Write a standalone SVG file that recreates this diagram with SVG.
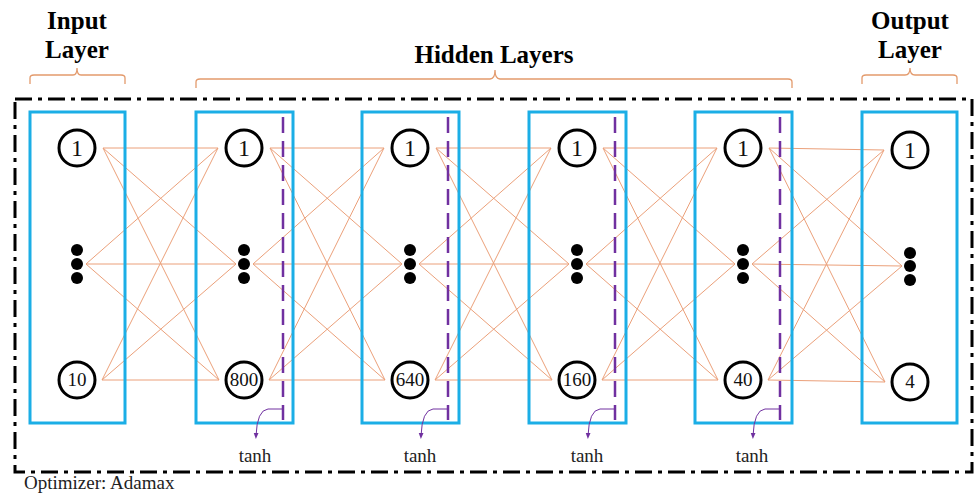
<svg xmlns="http://www.w3.org/2000/svg" width="976" height="498" viewBox="0 0 976 498">
<style>
.title{font-family:"Liberation Serif","Times New Roman",serif;font-weight:bold;font-size:25px;fill:#000;text-anchor:middle}
.lbl{font-family:"Liberation Serif","Times New Roman",serif;font-size:19px;fill:#222}
.n1{font-family:"Liberation Serif","Times New Roman",serif;font-size:24px;fill:#111;text-anchor:middle}
.nb{font-family:"Liberation Serif","Times New Roman",serif;font-size:19px;fill:#111;text-anchor:middle}
.brace{fill:none;stroke:#E39A6C;stroke-width:1.3}
.box{fill:none;stroke:#1BAEE6;stroke-width:3}
.node{fill:#fff;stroke:#000;stroke-width:3}
.dot{fill:#000}
.edge{stroke:#EBA07A;stroke-width:1;fill:none}
.act{stroke:#7030A0;stroke-width:2.5;stroke-dasharray:16 8;fill:none}
.actarrow{stroke:#7030A0;stroke-width:1;fill:none}
.frame{fill:none;stroke:#000;stroke-width:3;stroke-dasharray:17 6 4 6}
</style>
<defs>
<marker id="ah" viewBox="0 0 10 10" refX="5" refY="5" markerWidth="6" markerHeight="6" orient="auto">
<path d="M0,1 L10,5 L0,9 z" fill="#7030A0"/>
</marker>
</defs>
<rect class="frame" x="15" y="99" width="957" height="373"/>
<text class="title" x="77" y="29">Input</text>
<text class="title" x="77" y="58">Layer</text>
<text class="title" x="494" y="63">Hidden Layers</text>
<text class="title" x="910" y="29">Output</text>
<text class="title" x="910" y="58">Layer</text>
<path class="brace" d="M30,84 V78 Q30,75 34,75 H73 Q77,75 77,68 Q77,75 81,75 H121 Q125,75 125,78 V84"/>
<path class="brace" d="M196,88 V82 Q196,79 200,79 H490 Q495,79 495,70 Q495,79 500,79 H788 Q792,79 792,82 V88"/>
<path class="brace" d="M862,84 V78 Q862,75 866,75 H905 Q910,75 910,68 Q910,75 915,75 H953 Q957,75 957,78 V84"/>
<g id="connectors">
<line class="edge" x1="103" y1="148" x2="218" y2="148"/><line class="edge" x1="103" y1="148" x2="236" y2="264"/><line class="edge" x1="103" y1="148" x2="219" y2="380"/>
<line class="edge" x1="86" y1="264" x2="218" y2="148"/><line class="edge" x1="86" y1="264" x2="236" y2="264"/><line class="edge" x1="86" y1="264" x2="219" y2="380"/>
<line class="edge" x1="102" y1="380" x2="218" y2="148"/><line class="edge" x1="102" y1="380" x2="236" y2="264"/><line class="edge" x1="102" y1="380" x2="219" y2="380"/>
<line class="edge" x1="270" y1="148" x2="384" y2="148"/><line class="edge" x1="270" y1="148" x2="402" y2="264"/><line class="edge" x1="270" y1="148" x2="385" y2="380"/>
<line class="edge" x1="253" y1="264" x2="384" y2="148"/><line class="edge" x1="253" y1="264" x2="402" y2="264"/><line class="edge" x1="253" y1="264" x2="385" y2="380"/>
<line class="edge" x1="269" y1="380" x2="384" y2="148"/><line class="edge" x1="269" y1="380" x2="402" y2="264"/><line class="edge" x1="269" y1="380" x2="385" y2="380"/>
<line class="edge" x1="436" y1="148" x2="551" y2="148"/><line class="edge" x1="436" y1="148" x2="569" y2="264"/><line class="edge" x1="436" y1="148" x2="552" y2="380"/>
<line class="edge" x1="419" y1="264" x2="551" y2="148"/><line class="edge" x1="419" y1="264" x2="569" y2="264"/><line class="edge" x1="419" y1="264" x2="552" y2="380"/>
<line class="edge" x1="435" y1="380" x2="551" y2="148"/><line class="edge" x1="435" y1="380" x2="569" y2="264"/><line class="edge" x1="435" y1="380" x2="552" y2="380"/>
<line class="edge" x1="603" y1="148" x2="717" y2="148"/><line class="edge" x1="603" y1="148" x2="735" y2="264"/><line class="edge" x1="603" y1="148" x2="718" y2="380"/>
<line class="edge" x1="586" y1="264" x2="717" y2="148"/><line class="edge" x1="586" y1="264" x2="735" y2="264"/><line class="edge" x1="586" y1="264" x2="718" y2="380"/>
<line class="edge" x1="602" y1="380" x2="717" y2="148"/><line class="edge" x1="602" y1="380" x2="735" y2="264"/><line class="edge" x1="602" y1="380" x2="718" y2="380"/>
<line class="edge" x1="769" y1="148" x2="884" y2="150"/><line class="edge" x1="769" y1="148" x2="902" y2="266"/><line class="edge" x1="769" y1="148" x2="885" y2="382"/>
<line class="edge" x1="752" y1="264" x2="884" y2="150"/><line class="edge" x1="752" y1="264" x2="902" y2="266"/><line class="edge" x1="752" y1="264" x2="885" y2="382"/>
<line class="edge" x1="768" y1="380" x2="884" y2="150"/><line class="edge" x1="768" y1="380" x2="902" y2="266"/><line class="edge" x1="768" y1="380" x2="885" y2="382"/>
</g>
<g id="input-layer">
<rect class="box" x="30" y="112" width="95" height="311"/>
<g id="in-1"><circle class="node" cx="77" cy="148" r="18"/><text class="n1" x="77" y="156">1</text></g>
<g id="in-dots"><circle class="dot" cx="77" cy="250" r="6"/><circle class="dot" cx="77" cy="264" r="6"/><circle class="dot" cx="77" cy="278" r="6"/></g>
<g id="in-10"><circle class="node" cx="77" cy="380" r="18"/><text class="nb" x="77" y="386">10</text></g>
</g>
<g id="hidden-1">
<rect class="box" x="196" y="112" width="97" height="311"/>
<g id="h1-1"><circle class="node" cx="244" cy="148" r="18"/><text class="n1" x="244" y="156">1</text></g>
<g id="h1-dots"><circle class="dot" cx="244" cy="250" r="6"/><circle class="dot" cx="244" cy="264" r="6"/><circle class="dot" cx="244" cy="278" r="6"/></g>
<g id="h1-800"><circle class="node" cx="244" cy="380" r="18"/><text class="nb" x="244" y="386">800</text></g>
<line class="act" x1="283" y1="117" x2="283" y2="420"/>
<path class="actarrow" d="M283,409 H268 Q257,410 256,436" marker-end="url(#ah)"/>
<text class="lbl" x="255" y="462" text-anchor="middle">tanh</text>
</g>
<g id="hidden-2">
<rect class="box" x="362" y="112" width="97" height="311"/>
<g id="h2-1"><circle class="node" cx="410" cy="148" r="18"/><text class="n1" x="410" y="156">1</text></g>
<g id="h2-dots"><circle class="dot" cx="410" cy="250" r="6"/><circle class="dot" cx="410" cy="264" r="6"/><circle class="dot" cx="410" cy="278" r="6"/></g>
<g id="h2-640"><circle class="node" cx="410" cy="380" r="18"/><text class="nb" x="410" y="386">640</text></g>
<line class="act" x1="448" y1="117" x2="448" y2="420"/>
<path class="actarrow" d="M448,409 H433 Q422,410 421,436" marker-end="url(#ah)"/>
<text class="lbl" x="420" y="462" text-anchor="middle">tanh</text>
</g>
<g id="hidden-3">
<rect class="box" x="529" y="112" width="97" height="311"/>
<g id="h3-1"><circle class="node" cx="577" cy="148" r="18"/><text class="n1" x="577" y="156">1</text></g>
<g id="h3-dots"><circle class="dot" cx="577" cy="250" r="6"/><circle class="dot" cx="577" cy="264" r="6"/><circle class="dot" cx="577" cy="278" r="6"/></g>
<g id="h3-160"><circle class="node" cx="577" cy="380" r="18"/><text class="nb" x="577" y="386">160</text></g>
<line class="act" x1="615" y1="117" x2="615" y2="420"/>
<path class="actarrow" d="M615,409 H600 Q589,410 588,436" marker-end="url(#ah)"/>
<text class="lbl" x="587" y="462" text-anchor="middle">tanh</text>
</g>
<g id="hidden-4">
<rect class="box" x="695" y="112" width="97" height="311"/>
<g id="h4-1"><circle class="node" cx="743" cy="148" r="18"/><text class="n1" x="743" y="156">1</text></g>
<g id="h4-dots"><circle class="dot" cx="743" cy="250" r="6"/><circle class="dot" cx="743" cy="264" r="6"/><circle class="dot" cx="743" cy="278" r="6"/></g>
<g id="h4-40"><circle class="node" cx="743" cy="380" r="18"/><text class="nb" x="743" y="386">40</text></g>
<line class="act" x1="780" y1="117" x2="780" y2="420"/>
<path class="actarrow" d="M780,409 H765 Q754,410 753,436" marker-end="url(#ah)"/>
<text class="lbl" x="752" y="462" text-anchor="middle">tanh</text>
</g>
<g id="output-layer">
<rect class="box" x="862" y="112" width="95" height="311"/>
<g id="out-1"><circle class="node" cx="910" cy="150" r="18"/><text class="n1" x="910" y="158">1</text></g>
<g id="out-dots"><circle class="dot" cx="910" cy="253" r="6"/><circle class="dot" cx="910" cy="266" r="6"/><circle class="dot" cx="910" cy="280" r="6"/></g>
<g id="out-4"><circle class="node" cx="910" cy="382" r="18"/><text class="nb" x="910" y="388">4</text></g>
</g>
<text class="lbl" x="24" y="489">Optimizer: Adamax</text>
</svg>
